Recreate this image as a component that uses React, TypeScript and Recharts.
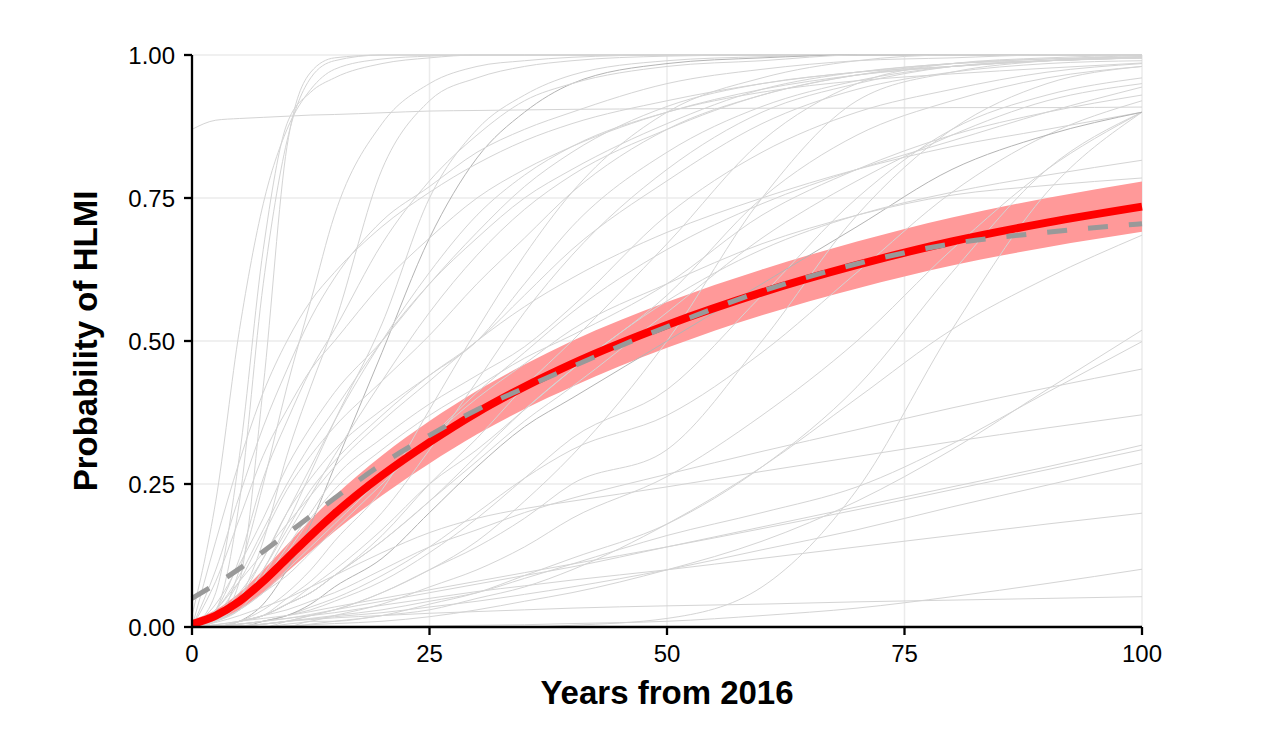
import { ComposedChart, Line, Area, XAxis, YAxis, CartesianGrid } from "recharts";

// sample years every curve is read at
const YEARS = [0, 2.5, 5, 7.5, 10, 12.5, 15, 20, 25, 30, 35, 40, 50, 60, 70, 80, 90, 100];

// mean forecast (red) with its band, and aggregate forecast (grey dashed)
const MEAN = [0.005, 0.02, 0.045, 0.08, 0.12, 0.16, 0.198, 0.265, 0.323, 0.375, 0.42, 0.46, 0.528, 0.585, 0.633, 0.674, 0.707, 0.735];
const MEAN_LOW = [0, 0.01, 0.03, 0.06, 0.096, 0.132, 0.167, 0.23, 0.286, 0.337, 0.381, 0.42, 0.488, 0.545, 0.592, 0.632, 0.664, 0.691];
const MEAN_HIGH = [0.012, 0.03, 0.06, 0.1, 0.144, 0.188, 0.229, 0.3, 0.36, 0.413, 0.459, 0.5, 0.568, 0.625, 0.674, 0.716, 0.75, 0.779];
const AGGREGATE = [0.05, 0.075, 0.102, 0.132, 0.163, 0.194, 0.225, 0.285, 0.335, 0.38, 0.418, 0.455, 0.525, 0.587, 0.635, 0.67, 0.69, 0.705];

// individual respondent curves (thin grey)
const RESPONDENTS: number[][] = [
    [0.02, 0.22, 0.52, 0.74, 0.87, 0.94, 0.975, 0.993, 0.998, 1, 1, 1, 1, 1, 1, 1, 1, 1],
    [0, 0.03, 0.22, 0.6, 0.85, 0.96, 0.99, 1, 1, 1, 1, 1, 1, 1, 1, 1, 1, 1],
    [0, 0.01, 0.08, 0.42, 0.84, 0.97, 0.995, 1, 1, 1, 1, 1, 1, 1, 1, 1, 1, 1],
    [0, 0.06, 0.3, 0.66, 0.88, 0.935, 0.96, 0.985, 0.995, 1, 1, 1, 1, 1, 1, 1, 1, 1],
    [0.87, 0.886, 0.889, 0.891, 0.893, 0.895, 0.896, 0.899, 0.902, 0.903, 0.904, 0.905, 0.906, 0.907, 0.907, 0.908, 0.908, 0.909],
    [0, 0.01, 0.1, 0.25, 0.42, 0.57, 0.72, 0.88, 0.95, 0.98, 0.99, 0.996, 1, 1, 1, 1, 1, 1],
    [0, 0.01, 0.05, 0.15, 0.3, 0.42, 0.53, 0.8, 0.92, 0.96, 0.98, 0.99, 0.998, 1, 1, 1, 1, 1],
    [0, 0.01, 0.04, 0.1, 0.18, 0.27, 0.36, 0.53, 0.75, 0.87, 0.93, 0.965, 0.99, 0.997, 1, 1, 1, 1],
    [0, 0, 0.01, 0.04, 0.1, 0.18, 0.28, 0.48, 0.68, 0.82, 0.9, 0.95, 0.985, 0.995, 1, 1, 1, 1],
    [0, 0.15, 0.29, 0.41, 0.5, 0.57, 0.62, 0.7, 0.76, 0.81, 0.85, 0.88, 0.92, 0.95, 0.97, 0.98, 0.99, 0.995],
    [0, 0.1, 0.23, 0.35, 0.45, 0.54, 0.61, 0.71, 0.77, 0.83, 0.87, 0.9, 0.95, 0.975, 0.99, 0.995, 1, 1],
    [0, 0.08, 0.19, 0.3, 0.38, 0.45, 0.5, 0.6, 0.68, 0.75, 0.8, 0.84, 0.9, 0.94, 0.965, 0.98, 0.99, 0.995],
    [0, 0.03, 0.12, 0.26, 0.36, 0.45, 0.52, 0.67, 0.78, 0.86, 0.92, 0.95, 0.98, 0.99, 1, 1, 1, 1],
    [0, 0.04, 0.11, 0.19, 0.28, 0.35, 0.41, 0.5, 0.6, 0.69, 0.77, 0.83, 0.91, 0.95, 0.97, 0.985, 0.99, 0.995],
    [0, 0.03, 0.09, 0.17, 0.25, 0.32, 0.38, 0.5, 0.6, 0.68, 0.75, 0.8, 0.88, 0.94, 0.97, 0.985, 0.993, 0.997],
    [0, 0.02, 0.08, 0.16, 0.24, 0.3, 0.35, 0.43, 0.51, 0.6, 0.68, 0.76, 0.87, 0.93, 0.965, 0.98, 0.99, 0.995],
    [0, 0.01, 0.05, 0.12, 0.2, 0.26, 0.31, 0.38, 0.44, 0.5, 0.6, 0.7, 0.83, 0.91, 0.955, 0.98, 0.99, 0.997],
    [0, 0.01, 0.04, 0.1, 0.17, 0.24, 0.29, 0.37, 0.44, 0.5, 0.58, 0.66, 0.78, 0.88, 0.94, 0.97, 0.985, 0.99],
    [0, 0.01, 0.03, 0.08, 0.14, 0.2, 0.26, 0.33, 0.39, 0.44, 0.49, 0.56, 0.72, 0.83, 0.9, 0.94, 0.97, 0.985],
    [0, 0.01, 0.04, 0.08, 0.13, 0.19, 0.24, 0.31, 0.37, 0.42, 0.47, 0.51, 0.6, 0.72, 0.8, 0.86, 0.9, 0.93],
    [0, 0, 0.01, 0.03, 0.06, 0.1, 0.15, 0.24, 0.38, 0.52, 0.65, 0.76, 0.9, 0.96, 0.99, 1, 1, 1],
    [0, 0, 0.01, 0.02, 0.05, 0.08, 0.12, 0.2, 0.31, 0.43, 0.55, 0.65, 0.8, 0.9, 0.95, 0.98, 0.99, 0.995],
    [0, 0, 0.01, 0.02, 0.04, 0.07, 0.1, 0.17, 0.25, 0.31, 0.38, 0.45, 0.58, 0.75, 0.86, 0.92, 0.96, 0.98],
    [0, 0, 0.01, 0.02, 0.04, 0.06, 0.09, 0.15, 0.22, 0.29, 0.36, 0.42, 0.55, 0.68, 0.78, 0.86, 0.92, 0.95],
    [0, 0.03, 0.08, 0.13, 0.18, 0.23, 0.28, 0.36, 0.43, 0.5, 0.56, 0.61, 0.69, 0.75, 0.8, 0.84, 0.87, 0.9],
    [0, 0, 0, 0, 0.01, 0.02, 0.03, 0.06, 0.1, 0.15, 0.22, 0.3, 0.5, 0.75, 0.92, 0.97, 0.99, 1],
    [0, 0, 0.01, 0.02, 0.04, 0.06, 0.09, 0.16, 0.25, 0.33, 0.42, 0.5, 0.67, 0.85, 0.95, 0.985, 0.995, 1],
    [0, 0, 0, 0.005, 0.01, 0.02, 0.03, 0.06, 0.1, 0.14, 0.19, 0.25, 0.31, 0.5, 0.72, 0.87, 0.95, 0.98],
    [0, 0, 0.005, 0.01, 0.02, 0.03, 0.045, 0.08, 0.13, 0.19, 0.26, 0.33, 0.415, 0.58, 0.75, 0.87, 0.93, 0.96],
    [0, 0, 0.005, 0.01, 0.02, 0.035, 0.05, 0.09, 0.14, 0.2, 0.26, 0.31, 0.37, 0.48, 0.62, 0.76, 0.86, 0.92],
    [0, 0, 0, 0, 0.005, 0.01, 0.02, 0.04, 0.07, 0.1, 0.14, 0.19, 0.263, 0.37, 0.5, 0.66, 0.8, 0.9],
    [0, 0, 0, 0, 0, 0.005, 0.01, 0.02, 0.04, 0.06, 0.09, 0.12, 0.18, 0.28, 0.42, 0.62, 0.8, 0.9],
    [0, 0, 0, 0, 0, 0, 0, 0, 0, 0, 0, 0.003, 0.015, 0.07, 0.24, 0.52, 0.76, 0.9],
    [0, 0, 0, 0.01, 0.02, 0.04, 0.07, 0.12, 0.2, 0.28, 0.35, 0.4, 0.5, 0.6, 0.7, 0.8, 0.86, 0.9],
    [0, 0, 0, 0, 0, 0.01, 0.01, 0.02, 0.03, 0.05, 0.07, 0.1, 0.18, 0.28, 0.4, 0.52, 0.61, 0.685],
    [0, 0, 0.01, 0.02, 0.04, 0.06, 0.09, 0.15, 0.22, 0.3, 0.38, 0.45, 0.57, 0.66, 0.72, 0.76, 0.79, 0.816],
    [0, 0.01, 0.03, 0.06, 0.1, 0.14, 0.18, 0.26, 0.33, 0.4, 0.46, 0.52, 0.6, 0.67, 0.72, 0.755, 0.772, 0.785],
    [0, 0.01, 0.03, 0.06, 0.09, 0.13, 0.17, 0.25, 0.33, 0.41, 0.48, 0.55, 0.66, 0.74, 0.8, 0.85, 0.9, 0.944],
    [0, 0.02, 0.06, 0.12, 0.2, 0.28, 0.36, 0.5, 0.62, 0.72, 0.79, 0.84, 0.9, 0.935, 0.955, 0.967, 0.977, 0.986],
    [0, 0.01, 0.04, 0.09, 0.16, 0.23, 0.3, 0.43, 0.55, 0.65, 0.73, 0.79, 0.87, 0.93, 0.965, 0.985, 0.993, 0.997],
    [0, 0, 0.002, 0.005, 0.01, 0.013, 0.016, 0.02, 0.024, 0.027, 0.03, 0.033, 0.037, 0.04, 0.044, 0.047, 0.05, 0.053],
    [0, 0, 0, 0, 0, 0, 0, 0.001, 0.002, 0.003, 0.004, 0.006, 0.01, 0.02, 0.033, 0.053, 0.076, 0.101],
    [0, 0.002, 0.005, 0.01, 0.015, 0.02, 0.025, 0.038, 0.05, 0.062, 0.072, 0.082, 0.1, 0.12, 0.14, 0.16, 0.18, 0.199],
    [0, 0.002, 0.005, 0.01, 0.015, 0.022, 0.03, 0.045, 0.06, 0.075, 0.09, 0.105, 0.14, 0.175, 0.21, 0.245, 0.28, 0.318],
    [0, 0.004, 0.01, 0.015, 0.02, 0.027, 0.035, 0.05, 0.065, 0.08, 0.095, 0.11, 0.14, 0.172, 0.205, 0.24, 0.275, 0.31],
    [0, 0, 0.002, 0.005, 0.01, 0.014, 0.018, 0.025, 0.035, 0.045, 0.057, 0.07, 0.1, 0.135, 0.17, 0.21, 0.248, 0.286],
    [0, 0.008, 0.02, 0.035, 0.05, 0.07, 0.09, 0.13, 0.165, 0.19, 0.207, 0.22, 0.245, 0.272, 0.298, 0.324, 0.348, 0.371],
    [0, 0.004, 0.01, 0.02, 0.03, 0.045, 0.06, 0.1, 0.14, 0.17, 0.2, 0.225, 0.267, 0.307, 0.345, 0.383, 0.418, 0.451],
    [0, 0, 0.002, 0.005, 0.01, 0.015, 0.02, 0.03, 0.045, 0.06, 0.085, 0.11, 0.16, 0.2, 0.245, 0.32, 0.41, 0.499],
    [0, 0, 0, 0, 0.002, 0.004, 0.006, 0.01, 0.018, 0.03, 0.045, 0.06, 0.1, 0.15, 0.22, 0.31, 0.415, 0.519],
];
const DARKER = [8, 33];

const X_TICKS = [0, 25, 50, 75, 100];
const Y_TICKS = [0, 0.25, 0.5, 0.75, 1];

const FONT = "'Liberation Sans', Arial, Helvetica, sans-serif";

const chartData = YEARS.map((year, i) => {
    const row: Record<string, any> = {
        year,
        mean: MEAN[i],
        band: [MEAN_LOW[i], MEAN_HIGH[i]],
        aggregate: AGGREGATE[i],
    };
    RESPONDENTS.forEach((curve, k) => {
        row[`r${k}`] = curve[i];
    });
    return row;
});

const XTitle = (props: any) => {
    const vb = props.viewBox;
    return (
        <text
            x={vb.x + vb.width / 2}
            y={704}
            textAnchor="middle"
            fontFamily={FONT}
            fontWeight="bold"
            fontSize={33}
            fill="#000"
        >
            Years from 2016
        </text>
    );
};

const YTitle = (props: any) => {
    const vb = props.viewBox;
    const cx = 97;
    const cy = vb.y + vb.height / 2;
    return (
        <text
            x={cx}
            y={cy}
            transform={`rotate(-90, ${cx}, ${cy})`}
            textAnchor="middle"
            fontFamily={FONT}
            fontWeight="bold"
            fontSize={33}
            fill="#000"
        >
            Probability of HLMI
        </text>
    );
};

export default function App() {
    return (
        <div style={{ position: "absolute", left: 0, top: 0, width: 1264, height: 733, background: "#fff" }}>
            <ComposedChart
                width={1264}
                height={733}
                data={chartData}
                margin={{ top: 55, right: 122, bottom: 0, left: 0 }}
            >
                <CartesianGrid stroke="#ebebeb" strokeWidth={1.5} />
                <XAxis
                    dataKey="year"
                    type="number"
                    domain={[0, 100]}
                    ticks={X_TICKS}
                    height={106}
                    tickSize={8}
                    tickMargin={10}
                    axisLine={{ stroke: "#000", strokeWidth: 2.3 }}
                    tickLine={{ stroke: "#000", strokeWidth: 2.3 }}
                    tick={{ fontSize: 24, fill: "#000", fontFamily: FONT }}
                    label={{ content: XTitle }}
                />
                <YAxis
                    type="number"
                    domain={[0, 1]}
                    ticks={Y_TICKS}
                    width={192}
                    tickSize={8}
                    tickMargin={9}
                    tickFormatter={(v) => Number(v).toFixed(2)}
                    axisLine={{ stroke: "#000", strokeWidth: 2.3 }}
                    tickLine={{ stroke: "#000", strokeWidth: 2.3 }}
                    tick={{ fontSize: 24, fill: "#000", fontFamily: FONT }}
                    label={{ content: YTitle }}
                />
                {RESPONDENTS.map((_, k) => (
                    <Line
                        key={k}
                        type="monotone"
                        dataKey={`r${k}`}
                        stroke={DARKER.includes(k) ? "#b4b4b4" : "#d4d4d4"}
                        strokeWidth={1}
                        dot={false}
                        activeDot={false}
                        isAnimationActive={false}
                    />
                ))}
                <Area
                    type="monotone"
                    dataKey="band"
                    stroke="none"
                    fill="#ff9999"
                    fillOpacity={1}
                    isAnimationActive={false}
                />
                <Line
                    type="monotone"
                    dataKey="mean"
                    stroke="#ff0000"
                    strokeWidth={8}
                    dot={false}
                    activeDot={false}
                    isAnimationActive={false}
                />
                <Line
                    type="monotone"
                    dataKey="aggregate"
                    stroke="#999999"
                    strokeWidth={5}
                    strokeDasharray="20 21"
                    dot={false}
                    activeDot={false}
                    isAnimationActive={false}
                />
            </ComposedChart>
        </div>
    );
}
